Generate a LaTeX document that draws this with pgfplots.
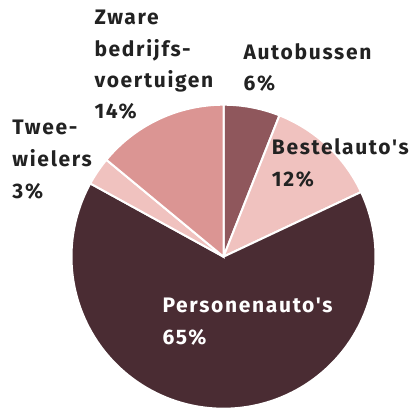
\documentclass[border=0pt]{standalone}
\usepackage{fontspec}
\setmainfont{Fira Sans}[Ligatures=TeXOff,BoldFont={* Bold},BoldFeatures={LetterSpace=8}]
\usepackage{pgfplots}
\pgfplotsset{compat=1.18}
\definecolor{cA}{HTML}{8F575C}
\definecolor{cB}{HTML}{F0C2BF}
\definecolor{cC}{HTML}{4A2C33}
\definecolor{cD}{HTML}{F0C2BF}
\definecolor{cE}{HTML}{DB9593}
\definecolor{txt}{HTML}{222222}
% shares in percent, clockwise from the top
\def\vA{6}\def\vB{12}\def\vC{65}\def\vD{3}\def\vE{14}
\pgfmathsetmacro\aA{90}
\pgfmathsetmacro\aB{\aA-3.6*\vA}
\pgfmathsetmacro\aC{\aB-3.6*\vB}
\pgfmathsetmacro\aD{\aC-3.6*\vC}
\pgfmathsetmacro\aE{\aD-3.6*\vD}
\pgfmathsetmacro\aF{\aE-3.6*\vE}
\def\cx{223.5}\def\cy{151.3}\def\R{152}
\newcommand\lbl[4][txt]{\node[anchor=base west,inner sep=0pt,text=#1,font=\fontsize{21bp}{25bp}\selectfont\bfseries] at (axis cs:#2,{408-#3}) {#4};}
\begin{document}
\begin{tikzpicture}
\useasboundingbox (0,0) rectangle (414bp,408bp);
\begin{axis}[at={(0,0)},anchor=south west,scale only axis,width=414bp,height=408bp,
  xmin=0,xmax=414,ymin=0,ymax=408,hide axis,clip=false]
\addplot[fill=cA,draw=white,line width=2bp,domain=\aB:\aA,samples=30,variable=\t]
  ({\cx+\R*cos(\t)},{\cy+\R*sin(\t)}) -- (axis cs:\cx,\cy) -- cycle;
\addplot[fill=cB,draw=white,line width=2bp,domain=\aC:\aB,samples=40,variable=\t]
  ({\cx+\R*cos(\t)},{\cy+\R*sin(\t)}) -- (axis cs:\cx,\cy) -- cycle;
\addplot[fill=cC,draw=white,line width=2bp,domain=\aD:\aC,samples=150,variable=\t]
  ({\cx+\R*cos(\t)},{\cy+\R*sin(\t)}) -- (axis cs:\cx,\cy) -- cycle;
\addplot[fill=cD,draw=white,line width=2bp,domain=\aE:\aD,samples=15,variable=\t]
  ({\cx+\R*cos(\t)},{\cy+\R*sin(\t)}) -- (axis cs:\cx,\cy) -- cycle;
\addplot[fill=cE,draw=white,line width=2bp,domain=\aF:\aE,samples=40,variable=\t]
  ({\cx+\R*cos(\t)},{\cy+\R*sin(\t)}) -- (axis cs:\cx,\cy) -- cycle;
\lbl{94.3}{25}{Zware}
\lbl{94.3}{56.7}{bedrijfs-}
\lbl{94.3}{87.5}{voertuigen}
\lbl{94.3}{119}{14\%}
\lbl{243.3}{59.3}{Autobussen}
\lbl{243.3}{91}{6\%}
\lbl{271.7}{155}{Bestelauto's}
\lbl{271.7}{187}{12\%}
\lbl{12.3}{135}{Twee-}
\lbl{12.3}{166.7}{wielers}
\lbl{12.3}{199}{3\%}
\lbl[white]{162.3}{312.3}{Personenauto's}
\lbl[white]{162.3}{344.3}{65\%}
\end{axis}
\end{tikzpicture}
\end{document}
